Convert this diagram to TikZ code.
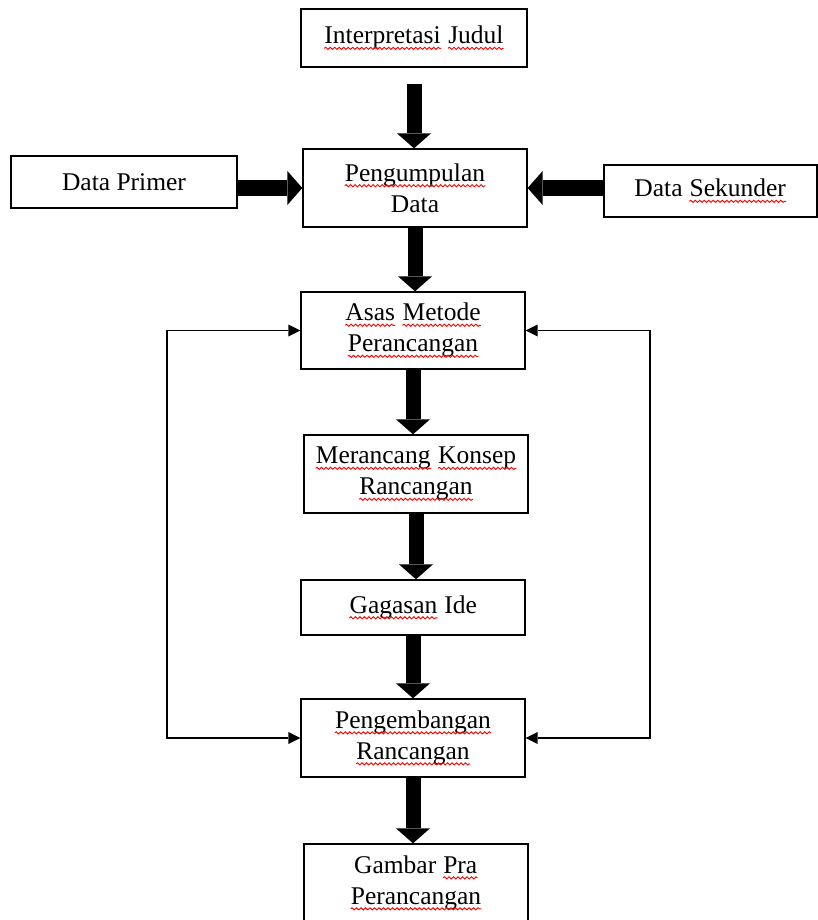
\documentclass[tikz,border=0pt]{standalone}
\usepackage{fontspec}
\setmainfont{Liberation Serif}
\usetikzlibrary{arrows.meta,calc,decorations.pathmorphing}
\newcommand\rw[1]{\tikz[baseline=0pt]{\node[draw=none, inner sep=0pt, minimum width=0pt, minimum height=0pt, anchor=base] (w) {#1};
  \draw[red, line width=0.9pt, decorate, decoration={snake, amplitude=1.1pt, segment length=4.5pt}] ([yshift=-4.5pt]w.base west) -- ([yshift=-4.5pt]w.base east);}}
\tikzset{
  boxnode/.style={draw, line width=1.3pt, inner sep=0pt, align=center,
    font=\fontsize{25.5}{31}\selectfont},
  bigarrow/.style={line width=15pt,
    -{Triangle[width=34pt,length=15pt,line width=0pt]}},
  thinarrow/.style={line width=1.4pt,
    {Triangle[width=12pt,length=12pt,line width=0pt]}-{Triangle[width=12pt,length=12pt,line width=0pt]}}
}
\begin{document}
\begin{tikzpicture}[x=1pt,y=-1pt]
\useasboundingbox[fill=white] (0,0) rectangle (818,920);
\node[boxnode, minimum width=226pt, minimum height=58pt] (interp) at (414,38) {\rw{Interpretasi} \rw{Judul}};
\node[boxnode, minimum width=224pt, minimum height=78pt] (pengum) at (415,188) {\rw{Pengumpulan}\\Data};
\node[boxnode, minimum width=226pt, minimum height=52pt] (primer) at (124,182) {Data Primer};
\node[boxnode, minimum width=213pt, minimum height=52pt] (sekunder) at (710.5,191) {Data \rw{Sekunder}};
\node[boxnode, minimum width=224pt, minimum height=77pt] (asas) at (413,330.5) {\rw{Asas} \rw{Metode}\\\rw{Perancangan}};
\node[boxnode, minimum width=224pt, minimum height=78pt] (meran) at (416,474) {\rw{Merancang} \rw{Konsep}\\\rw{Rancangan}};
\node[boxnode, minimum width=224pt, minimum height=55pt] (gagas) at (413,607.5) {\rw{Gagasan} Ide};
\node[boxnode, minimum width=224pt, minimum height=78pt] (pengem) at (413,738) {\rw{Pengembangan}\\\rw{Rancangan}};
\node[boxnode, minimum width=224pt, minimum height=78pt] (gambar) at (416,883) {Gambar \rw{Pra}\\\rw{Perancangan}};
\coordinate (L) at (167,0);
\coordinate (R) at (650,0);
% thick arrows
\draw[bigarrow, shorten <=16pt] (interp.south) -- (interp.south |- pengum.north);
\draw[bigarrow] (pengum.south) -- (pengum.south |- asas.north);
\draw[bigarrow] (asas.south) -- (asas.south |- meran.north);
\draw[bigarrow] (meran.south) -- (meran.south |- gagas.north);
\draw[bigarrow] (gagas.south) -- (gagas.south |- pengem.north);
\draw[bigarrow] (pengem.south) -- (pengem.south |- gambar.north);
\draw[bigarrow] (pengum.west -| primer.east) -- (pengum.west);
\draw[bigarrow] (pengum.east -| sekunder.west) -- (pengum.east);
% feedback lines
\draw[thinarrow] (asas.west) -- (asas.west -| L) -- (pengem.west -| L) -- (pengem.west);
\draw[thinarrow] (asas.east) -- (asas.east -| R) -- (pengem.east -| R) -- (pengem.east);
\end{tikzpicture}
\end{document}
